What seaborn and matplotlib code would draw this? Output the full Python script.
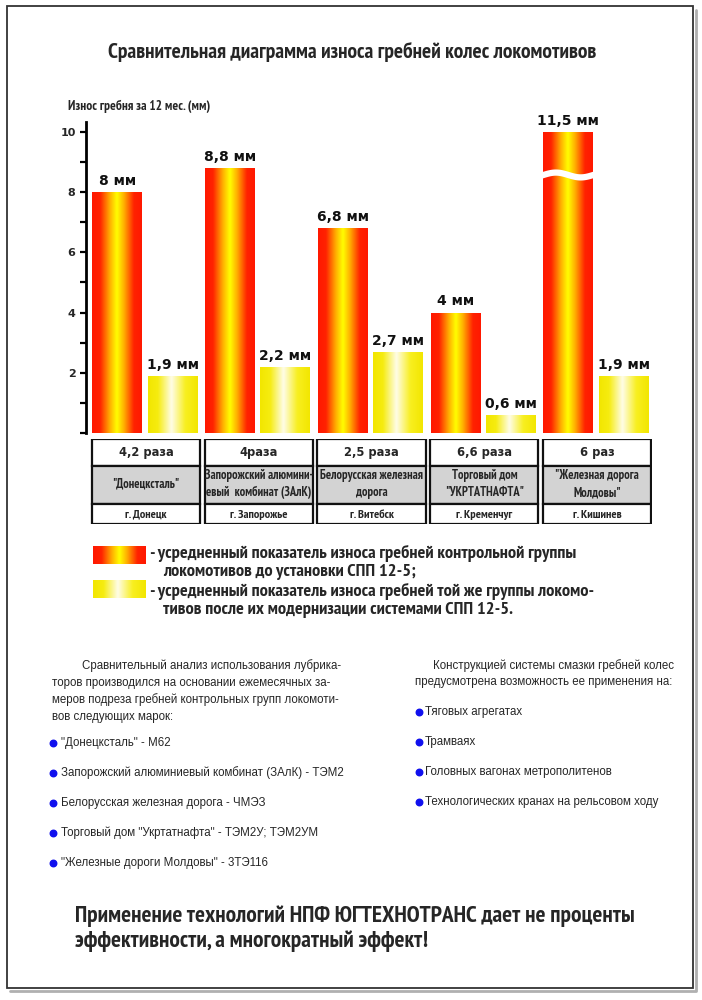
import numpy as np
import pandas as pd
import seaborn as sns
import matplotlib.pyplot as plt
from matplotlib.colors import LinearSegmentedColormap
from matplotlib.patches import Rectangle

# --- data ---
organizations = ['"Донецксталь"', 'Запорожский алюмини-\nевый  комбинат (ЗАлК)',
                 'Белорусская железная\nдорога', 'Торговый дом\n"УКРТАТНАФТА"',
                 '"Железная дорога\nМолдовы"']
cities = ['г. Донецк', 'г. Запорожье', 'г. Витебск', 'г. Кременчуг', 'г. Кишинев']
ratios = ['4,2 раза', '4раза', '2,5 раза', '6,6 раза', '6 раз']
wear_before = [8, 8.8, 6.8, 4, 11.5]
wear_after = [1.9, 2.2, 2.7, 0.6, 1.9]
axis_cap = 10  # the tallest bar is drawn broken at the top of the scale

title = 'Сравнительная диаграмма износа гребней колес локомотивов'
ylabel = 'Износ гребня за 12 мес. (мм)'
legend_lines = ['- усредненный показатель износа гребней контрольной группы',
                'локомотивов до установки СПП 12-5;',
                '- усредненный показатель износа гребней той же группы локомо-',
                'тивов после их модернизации системами СПП 12-5.']
left_par = ['Сравнительный анализ использования лубрика-',
            'торов производился на основании ежемесячных за-',
            'меров подреза гребней контрольных групп локомоти-',
            'вов следующих марок:']
left_items = ['"Донецксталь" - М62', 'Запорожский алюминиевый комбинат (ЗАлК) - ТЭМ2',
              'Белорусская железная дорога - ЧМЭЗ', 'Торговый дом "Укртатнафта" - ТЭМ2У; ТЭМ2УМ',
              '"Железные дороги Молдовы" - 3ТЭ116']
right_par = ['Конструкцией системы смазки гребней колес',
             'предусмотрена возможность ее применения на:']
right_items = ['Тяговых агрегатах', 'Трамваях', 'Головных вагонах метрополитенов',
               'Технологических кранах на рельсовом ходу']
footer = ['Применение технологий НПФ ЮГТЕХНОТРАНС дает не проценты',
          'эффективности, а многократный эффект!']

sns.set_theme(style="white")
narrow = ['PT Sans Narrow', 'Liberation Sans', 'DejaVu Sans']
plain = ['Liberation Sans', 'DejaVu Sans']
wide = ['DejaVu Sans']
plt.rcParams['font.family'] = narrow

W, H = 702, 1000
fig = plt.figure(figsize=(W / 100, H / 100), dpi=100)

def box(x0, y0, x1, y1):
    return [x0 / W, 1 - y1 / H, (x1 - x0) / W, (y1 - y0) / H]

# page overlay in pixel units
page = fig.add_axes([0, 0, 1, 1])
page.set_xlim(0, W)
page.set_ylim(H, 0)
page.axis('off')

red_cmap = LinearSegmentedColormap.from_list('red', [
    (0, '#ff1800'), (0.16, '#ff2200'), (0.36, '#ffb000'), (0.5, '#ffff00'),
    (0.64, '#ffb000'), (0.84, '#ff2200'), (1, '#ff1800')])
yel_cmap = LinearSegmentedColormap.from_list('yel', [
    (0, '#f2e600'), (0.2, '#f6ec10'), (0.47, '#fffde8'), (0.75, '#f8ef20'), (1, '#f2e600')])
grad = np.linspace(0, 1, 256).reshape(1, -1)

# --- bar chart ---
ax = fig.add_axes(box(86, 122, 652, 433))
ax.set_facecolor('none')
df = pd.DataFrame({
    'city': cities * 2,
    'state': ['до'] * 5 + ['после'] * 5,
    'wear': list(wear_before) + list(wear_after),
})
df['shown'] = df['wear'].clip(upper=axis_cap)
sns.barplot(data=df, x='city', y='shown', hue='state', order=cities,
            hue_order=['до', 'после'], palette=['#ff2000', '#ffee00'],
            width=0.98, gap=0.1, errorbar=None, legend=False, ax=ax)

for cont, cmap, vals in zip(ax.containers, [red_cmap, yel_cmap], [wear_before, wear_after]):
    for bar, v in zip(cont, vals):
        x0, w, h = bar.get_x(), bar.get_width(), bar.get_height()
        im = ax.imshow(grad, cmap=cmap, extent=[x0, x0 + w, 0, h], aspect='auto',
                       interpolation='bicubic', zorder=2)
        im.set_clip_path(bar)
        bar.set_facecolor('none')
        bar.set_edgecolor('none')
        ax.annotate(f'{v:g}'.replace('.', ',') + ' мм', (x0 + w / 2, h),
                    xytext=(0, 3), textcoords='offset points', ha='center', va='bottom',
                    fontsize=10, fontweight='semibold', family=wide, color='#111111')
        if v > axis_cap:
            xs = np.linspace(x0 - 0.02, x0 + w + 0.02, 60)
            ax.plot(xs, 8.57 + 0.08 * np.sin((xs - x0) / w * 2 * np.pi), color='white',
                    lw=4.5, zorder=3, solid_capstyle='butt')

ax.set_xlim(-0.523, 4.497)
ax.set_ylim(0, 10.33)
ax.set_yticks([2, 4, 6, 8, 10])
ax.set_yticks([0, 1, 3, 5, 7, 9], minor=True)
ax.set_yticklabels(['2', '4', '6', '8', '10'], family=wide, fontweight='bold', fontsize=8)
ax.tick_params(axis='y', which='both', left=True, direction='out', length=4.5,
               width=1.6, color='black', pad=3)
ax.set_xticks([])
ax.set_xlabel('')
ax.set_ylabel('')
for side in ['top', 'right', 'bottom']:
    ax.spines[side].set_visible(False)
ax.spines['left'].set_linewidth(2)
ax.spines['left'].set_color('black')

# --- table under the bars ---
tax = fig.add_axes(box(86, 439, 652, 524))
tax.set_facecolor('none')
tax.set_xlim(ax.get_xlim())
tax.set_ylim(85, 0)
tax.axis('off')
rows = [(0, 27, 'white'), (27, 65, '#d3d3d3'), (65, 85, 'white')]
for i in range(len(cities)):
    left, right = i - 0.47, i + 0.49
    for y0, y1, fc in rows:
        tax.add_patch(Rectangle((left, y0), right - left, y1 - y0, facecolor=fc,
                                edgecolor='#111111', lw=1.6))
    tax.text((left + right) / 2, 13.5, ratios[i], ha='center', va='center',
             fontsize=8.3, fontweight='bold', family=wide)
    tax.text((left + right) / 2, 45, organizations[i], ha='center', va='center',
             fontsize=9, fontweight='bold', family=narrow, linespacing=1.4)
    tax.text((left + right) / 2, 75.5, cities[i], ha='center', va='center',
             fontsize=8.8, fontweight='bold', family=narrow)

# --- title and axis caption ---
page.text(352, 52, title, ha='center', va='center', fontsize=15.5, fontweight='bold', family=narrow)
page.text(68, 106, ylabel, ha='left', va='center', fontsize=9.6, fontweight='bold', family=narrow)

# --- legend ---
for (y0, y1), cmap in zip([(546, 564), (580, 598)], [red_cmap, yel_cmap]):
    page.imshow(grad, cmap=cmap, extent=[93, 146, y1, y0], aspect='auto',
                interpolation='bicubic', zorder=2)
for line, x, y in zip(legend_lines, [150, 163, 150, 163], [553, 572, 591, 610]):
    page.text(x, y, line, ha='left', va='center', fontsize=13.2, fontweight='bold', family=narrow)

# --- lower paragraphs ---
for k, (line, y) in enumerate(zip(left_par, [666, 683, 700, 717])):
    page.text(82 if k == 0 else 52, y, line, ha='left', va='center', fontsize=8.3, family=plain)
left_y = [743, 773, 803, 833, 863]
page.scatter([53] * len(left_y), left_y, s=22, color='#1010ee', zorder=3)
for line, y in zip(left_items, left_y):
    page.text(61, y, line, ha='left', va='center', fontsize=8.3, family=plain)

for k, (line, y) in enumerate(zip(right_par, [666, 682])):
    page.text(433 if k == 0 else 415, y, line, ha='left', va='center', fontsize=8.3, family=plain)
right_y = [712, 742, 772, 802]
page.scatter([419] * len(right_y), right_y, s=22, color='#1010ee', zorder=3)
for line, y in zip(right_items, right_y):
    page.text(425, y, line, ha='left', va='center', fontsize=8.3, family=plain)

for line, y in zip(footer, [916, 941]):
    page.text(75, y, line, ha='left', va='center', fontsize=16.8, fontweight='bold', family=narrow)

# --- page frame with a soft shadow ---
page.plot([10, 696, 696], [991, 991, 10], color='#b0b0b0', lw=2, zorder=1)
page.add_patch(Rectangle((7, 6), 686, 982, facecolor='none', edgecolor='#333333', lw=1.3, zorder=4))

fig.savefig('out.png', dpi=100)
